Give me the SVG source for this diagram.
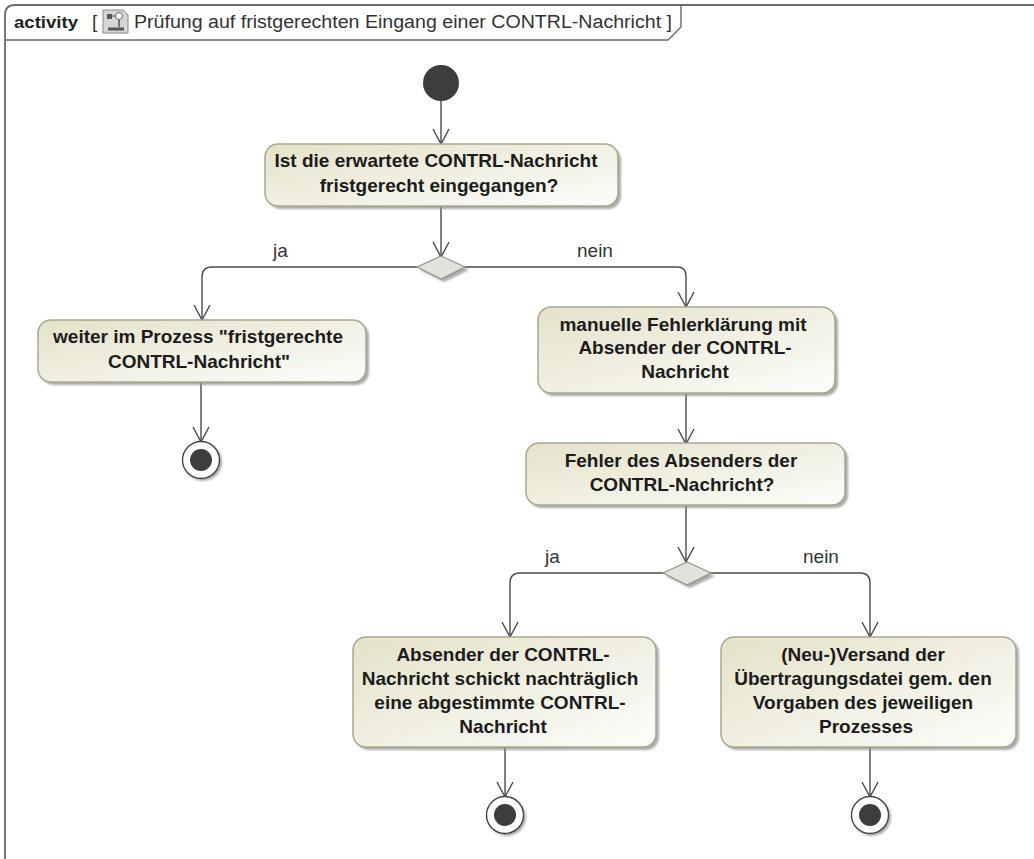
<svg xmlns="http://www.w3.org/2000/svg" width="1034" height="859" viewBox="0 0 1034 859">
<style>
.box{fill:url(#g);stroke:#a9a88e;stroke-width:1.5}
.sh{fill:#8f8f8f;opacity:.75;filter:url(#b)}
.t{font-family:"Liberation Sans",Arial,sans-serif;font-size:19px;font-weight:bold;fill:#1c1c1c;text-anchor:middle}
.l{font-family:"Liberation Sans",Arial,sans-serif;font-size:19px;fill:#333}
.c{fill:none;stroke:#4a4a4a;stroke-width:1.4}
.dot{fill:#3d3d40}
.ring{fill:#fff;stroke:#444;stroke-width:1.4}
.dia{fill:#e2e2dc;stroke:#94948a;stroke-width:1.2}
</style>
<defs>
<linearGradient id="g" x1="0" y1="0" x2="1" y2="1"><stop offset="0" stop-color="#e4e2c9"/><stop offset="1" stop-color="#fdfdfb"/></linearGradient>
<filter id="b" x="-10%" y="-10%" width="120%" height="120%"><feGaussianBlur stdDeviation="1.2"/></filter>
<marker id="a" markerUnits="userSpaceOnUse" markerWidth="20" markerHeight="20" refX="9" refY="15" orient="0" overflow="visible"><path d="M1 0L9 15L17 0" fill="none" stroke="#4a4a4a" stroke-width="1.4"/></marker>
</defs>
<rect width="1034" height="859" fill="#fff"/>
<g id="frame">
<path d="M5 866V15Q5 5 15 5H1034" fill="none" stroke="#6a6a6a" stroke-width="1.8"/>
<path d="M5 40H668L681 27V5" fill="none" stroke="#6a6a6a" stroke-width="1.4"/>
<text x="14" y="28" font-family="Liberation Sans,Arial,sans-serif" font-size="17" font-weight="bold" fill="#222" textLength="64" lengthAdjust="spacingAndGlyphs">activity</text>
<text x="92" y="28" class="l">[</text>
<g id="icon"><path d="M103 10H123L128 15V33H103Z" fill="#d6d6d6" stroke="#888"/><rect x="107" y="14" width="5" height="5" fill="#555"/><path d="M112 16H116" stroke="#555"/><circle cx="119" cy="16" r="3.5" fill="#fff" stroke="#666"/><path d="M119 20V27" stroke="#555" stroke-width="1.5" fill="none"/><path d="M108 29H124" stroke="#555" stroke-width="3" fill="none"/></g>
<text x="134" y="28" class="l" style="font-size:18px" textLength="538" lengthAdjust="spacingAndGlyphs">Prüfung auf fristgerechten Eingang einer CONTRL-Nachricht ]</text>
</g>
<g id="connectors">
<path class="c" marker-end="url(#a)" d="M441 100V144"/>
<path class="c" marker-end="url(#a)" d="M441 206V257"/>
<path class="c" marker-end="url(#a)" d="M418 267H212Q202 267 202 277V320"/>
<path class="c" marker-end="url(#a)" d="M465 267H677Q686 267 686 276V307"/>
<path class="c" marker-end="url(#a)" d="M201 382V442"/>
<path class="c" marker-end="url(#a)" d="M686 394V444"/>
<path class="c" marker-end="url(#a)" d="M686 506V562"/>
<path class="c" marker-end="url(#a)" d="M663 573H520Q510 573 510 583V637"/>
<path class="c" marker-end="url(#a)" d="M711 573H860Q870 573 870 583V637"/>
<path class="c" marker-end="url(#a)" d="M505 747V797"/>
<path class="c" marker-end="url(#a)" d="M870 747V797"/>
<text class="l" x="273" y="257">ja</text>
<text class="l" x="577" y="257">nein</text>
<text class="l" x="545" y="563">ja</text>
<text class="l" x="803" y="563">nein</text>
</g>
<g id="start"><circle class="dot" cx="441" cy="83" r="18"/></g>
<g id="n1"><rect class="sh" x="268" y="147" width="353" height="62" rx="13"/><rect class="box" x="265" y="144" width="353" height="62" rx="13"/><text class="t" x="436" y="167">Ist die erwartete CONTRL-Nachricht</text><text class="t" x="439" y="192">fristgerecht eingegangen?</text></g>
<g id="d1"><path class="sh" d="M444 259L469 270L444 282L420 270Z"/><path class="dia" d="M441 256L465 267L441 279L417 267Z"/></g>
<g id="n2"><rect class="sh" x="41" y="323" width="328" height="62" rx="13"/><rect class="box" x="38" y="320" width="328" height="62" rx="13"/><text class="t" x="198" y="343">weiter im Prozess "fristgerechte</text><text class="t" x="199" y="368">CONTRL-Nachricht"</text></g>
<g id="f1"><circle class="sh" cx="203" cy="462" r="19"/><circle class="ring" cx="201" cy="460" r="18.5"/><circle class="dot" cx="201" cy="460" r="11"/></g>
<g id="n3"><rect class="sh" x="541" y="310" width="297" height="86" rx="13"/><rect class="box" x="538" y="307" width="297" height="86" rx="13"/><text class="t" x="683" y="331">manuelle Fehlerklärung mit</text><text class="t" x="685" y="354">Absender der CONTRL-</text><text class="t" x="685" y="378">Nachricht</text></g>
<g id="n4"><rect class="sh" x="529" y="446" width="319" height="62" rx="13"/><rect class="box" x="526" y="443" width="319" height="62" rx="13"/><text class="t" x="681" y="467">Fehler des Absenders der</text><text class="t" x="682" y="491">CONTRL-Nachricht?</text></g>
<g id="d2"><path class="sh" d="M690 565L715 576L690 588L666 576Z"/><path class="dia" d="M687 562L711 573L687 585L663 573Z"/></g>
<g id="n5"><rect class="sh" x="356" y="640" width="303" height="110" rx="13"/><rect class="box" x="353" y="637" width="303" height="110" rx="13"/><text class="t" x="503" y="661">Absender der CONTRL-</text><text class="t" x="500" y="685">Nachricht schickt nachträglich</text><text class="t" x="500" y="709">eine abgestimmte CONTRL-</text><text class="t" x="503" y="733">Nachricht</text></g>
<g id="n6"><rect class="sh" x="724" y="640" width="295" height="110" rx="13"/><rect class="box" x="721" y="637" width="295" height="110" rx="13"/><text class="t" x="863" y="661">(Neu-)Versand der</text><text class="t" x="863" y="685">Übertragungsdatei gem. den</text><text class="t" x="863" y="709">Vorgaben des jeweiligen</text><text class="t" x="866" y="733">Prozesses</text></g>
<g id="f2"><circle class="sh" cx="507" cy="817" r="19"/><circle class="ring" cx="505" cy="815" r="18.5"/><circle class="dot" cx="505" cy="815" r="11"/></g>
<g id="f3"><circle class="sh" cx="872" cy="817" r="19"/><circle class="ring" cx="870" cy="815" r="18.5"/><circle class="dot" cx="870" cy="815" r="11"/></g>
</svg>
